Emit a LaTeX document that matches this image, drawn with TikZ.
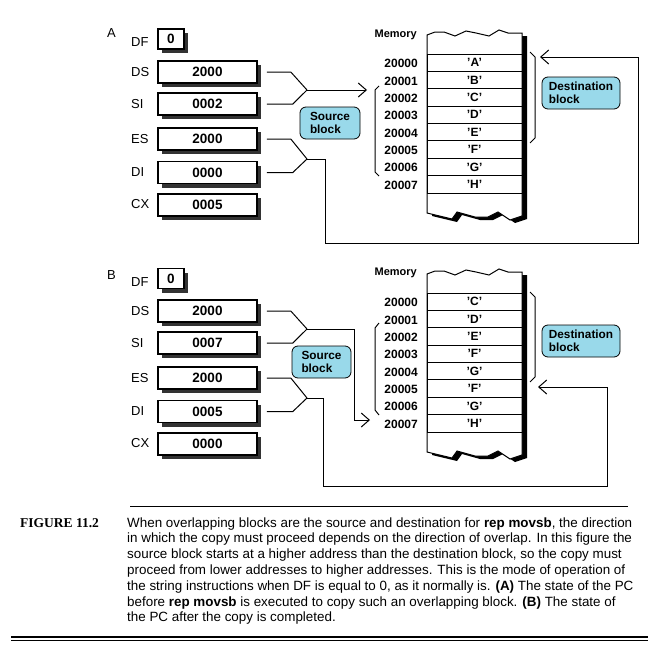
\documentclass[tikz,border=0pt]{standalone}
\usepackage{fontspec}
\setmainfont{Liberation Sans}
\newfontfamily\capfont{Liberation Sans}
\newfontfamily\figfont{Liberation Serif}
\usetikzlibrary{arrows.meta,shadows}
\definecolor{blockblue}{RGB}{153,217,234}
\newcommand\mq[1]{\char"27 #1\char"27}
\newcommand\memcolpath{(427,35) -- (435,32) -- (444,32) -- (455,36) -- (466,31) -- (476,33) -- (489,36) -- (499,30) -- (508,33) -- (522,33) -- (522,216) -- (510,220) -- (498,212) -- (488,217) -- (475,217) -- (457,212) -- (452,219) -- (427,213) -- cycle}
\begin{document}
\begin{tikzpicture}[x=1pt,y=-1pt,
  reg/.style={draw, line width=1.6pt, fill=white, minimum height=22pt, minimum width=99pt, inner sep=0pt,
    font=\fontsize{13.5}{14}\selectfont\bfseries,
    drop shadow={shadow xshift=4pt, shadow yshift=-4pt, fill=black!80, opacity=1}},
  dfreg/.style={reg, minimum width=26pt, minimum height=20pt},
  lbl/.style={anchor=west, inner sep=0pt, font=\fontsize{13}{14}\selectfont},
  addr/.style={anchor=east, inner sep=0pt, font=\fontsize{12}{13}\selectfont\bfseries},
  cell/.style={draw, line width=1pt, minimum width=95pt, minimum height=17.375pt, inner sep=0pt,
    font=\fontsize{12}{13}\selectfont\bfseries},
  memlbl/.style={anchor=east, inner sep=0pt, font=\fontsize{11}{12}\selectfont\bfseries},
  blk/.style={draw, line width=0.8pt, fill=blockblue, rounded corners=6pt, align=left, inner sep=0pt,
    font=\fontsize{11.8}{12.5}\selectfont\bfseries},
  conn/.style={line width=1pt},
  barb/.style={-{Straight Barb[length=8pt,width=14pt]}},
  brk/.style={line width=1pt},
  captxt/.style={anchor=base west, inner sep=0pt, font=\capfont\fontsize{13.4}{15.8}\selectfont}
]
\useasboundingbox (0,0) rectangle (664,664);

% ================= Panel A =================
\node[lbl] (pA) at (107,33.5) {A};
\node[lbl] (dfAl) at (131,42.5) {DF};
\node[dfreg] (dfA) at (171,39) {0};
\node[lbl] (dsAl) at (131,72) {DS};
\node[reg] (dsA) at (207.5,72) {2000};
\node[lbl] (siAl) at (131,104.5) {SI};
\node[reg] (siA) at (207.5,104) {0002};
\node[lbl] (esAl) at (131,139.5) {ES};
\node[reg] (esA) at (207.5,139) {2000};
\node[lbl] (diAl) at (131,172) {DI};
\node[reg] (diA) at (207.5,172.5) {0000};
\node[lbl] (cxAl) at (131,204.5) {CX};
\node[reg] (cxA) at (207.5,205) {0005};

\fill[black, shift={(5,3)}] \memcolpath;
\filldraw[fill=white, line width=1pt] \memcolpath;
\node[memlbl] (memA) at (417,35) {Memory};
\foreach \i/\a/\c in {0/20000/A,1/20001/B,2/20002/C,3/20003/D,4/20004/E,5/20005/F,6/20006/G,7/20007/H}{
  \node[cell] (mA\i) at (474.5,{62.69+17.375*\i}) {\mq{\c}};
  \node[addr] (adA\i) at (418,{63.5+17.375*\i}) {\a};
}
\node[blk, minimum width=60pt, minimum height=32pt] (srcA) at (330,123) {Source\\block};
\node[blk, minimum width=78pt, minimum height=32pt] (dstA) at (581,93) {Destination\\block};
\draw[brk] (379,86) -- (375,90) -- (375,172) -- (379,176);
\draw[brk] (530,52) -- (535,57) -- (535,138) -- (530,143);

\coordinate (jA1) at (307,90);
\coordinate (tipA1) at (367,90);
\coordinate (jA2) at (307,159);
\coordinate (cA1) at (325,243);
\coordinate (cA2) at (638,57);
\coordinate (tipA2) at (540,57);
\draw[conn] ([xshift=9pt]dsA.east) -- ++(24,0) -- (jA1);
\draw[conn] ([xshift=9pt]siA.east) -- ++(26,0) -- (jA1);
\draw[conn,barb] (jA1) -- (tipA1);
\draw[conn] ([xshift=9pt]esA.east) -- ++(24,0) -- (jA2);
\draw[conn] ([xshift=9pt]diA.east) -- ++(26,0) -- (jA2);
\draw[conn,barb] (jA2) -| (cA1) -| (cA2) -- (tipA2);

% ================= Panel B =================
\begin{scope}[shift={(0,239)}]
\node[lbl] (pB) at (107,36.5) {B};
\node[lbl] (dfBl) at (131,43) {DF};
\node[dfreg] (dfB) at (171,39.5) {0};
\node[lbl] (dsBl) at (131,72) {DS};
\node[reg] (dsB) at (207.5,72) {2000};
\node[lbl] (siBl) at (131,104.5) {SI};
\node[reg] (siB) at (207.5,104) {0007};
\node[lbl] (esBl) at (131,139.5) {ES};
\node[reg] (esB) at (207.5,139) {2000};
\node[lbl] (diBl) at (131,172) {DI};
\node[reg] (diB) at (207.5,172.5) {0005};
\node[lbl] (cxBl) at (131,204.5) {CX};
\node[reg] (cxB) at (207.5,205) {0000};

\fill[black, shift={(5,3)}] \memcolpath;
\filldraw[fill=white, line width=1pt] \memcolpath;
\node[memlbl] (memB) at (417,34) {Memory};
\foreach \i/\a/\c in {0/20000/C,1/20001/D,2/20002/E,3/20003/F,4/20004/G,5/20005/F,6/20006/G,7/20007/H}{
  \node[cell] (mB\i) at (474.5,{62.69+17.375*\i}) {\mq{\c}};
  \node[addr] (adB\i) at (418,{63.5+17.375*\i}) {\a};
}
\node[blk, minimum width=59pt, minimum height=32pt] (srcB) at (321.5,123) {Source\\block};
\node[blk, minimum width=78pt, minimum height=32pt] (dstB) at (581,102) {Destination\\block};
\draw[brk] (379,84) -- (375,89) -- (375,171) -- (379,176);
\draw[brk] (530,53) -- (535,58) -- (535,138) -- (530,143);

\coordinate (jB1) at (307,90);
\coordinate (cB0) at (354,181);
\coordinate (tipB1) at (370,181);
\coordinate (jB2) at (307,159);
\coordinate (cB1) at (323,247);
\coordinate (cB2) at (607,148);
\coordinate (tipB2) at (538,148);
\draw[conn] ([xshift=9pt]dsB.east) -- ++(24,0) -- (jB1);
\draw[conn] ([xshift=9pt]siB.east) -- ++(26,0) -- (jB1);
\draw[conn,barb] (jB1) -| (cB0) -- (tipB1);
\draw[conn] ([xshift=9pt]esB.east) -- ++(24,0) -- (jB2);
\draw[conn] ([xshift=9pt]diB.east) -- ++(26,0) -- (jB2);
\draw[conn,barb] (jB2) -| (cB1) -| (cB2) -- (tipB2);
\end{scope}

% ================= Caption =================
\coordinate (rt1) at (130,506);
\coordinate (rt2) at (628,506);
\draw[line width=1pt] (rt1) -- (rt2);
\node[anchor=base west, inner sep=0pt, font=\figfont\fontsize{13.5}{15}\selectfont\bfseries] (fig) at (20,527) {FIGURE 11.2};
\node[captxt] (c1) at (127,527) {When overlapping blocks are the source and destination for \textbf{rep movsb}, the direction};
\node[captxt] (c2) at (127,542.8) {in which the copy must proceed depends on the direction of overlap. In this figure the};
\node[captxt] (c3) at (127,558.6) {source block starts at a higher address than the destination block, so the copy must};
\node[captxt] (c4) at (127,574.4) {proceed from lower addresses to higher addresses. This is the mode of operation of};
\node[captxt] (c5) at (127,590.2) {the string instructions when DF is equal to 0, as it normally is. \textbf{(A)} The state of the PC};
\node[captxt] (c6) at (127,606) {before \textbf{rep movsb} is executed to copy such an overlapping block. \textbf{(B)} The state of};
\node[captxt] (c7) at (127,621.8) {the PC after the copy is completed.};
\coordinate (rb1) at (11,637);
\coordinate (rb2) at (648,637);
\coordinate (rb3) at (11,640.5);
\coordinate (rb4) at (648,640.5);
\draw[line width=1.4pt] (rb1) -- (rb2);
\draw[line width=1.4pt] (rb3) -- (rb4);
\end{tikzpicture}
\end{document}
